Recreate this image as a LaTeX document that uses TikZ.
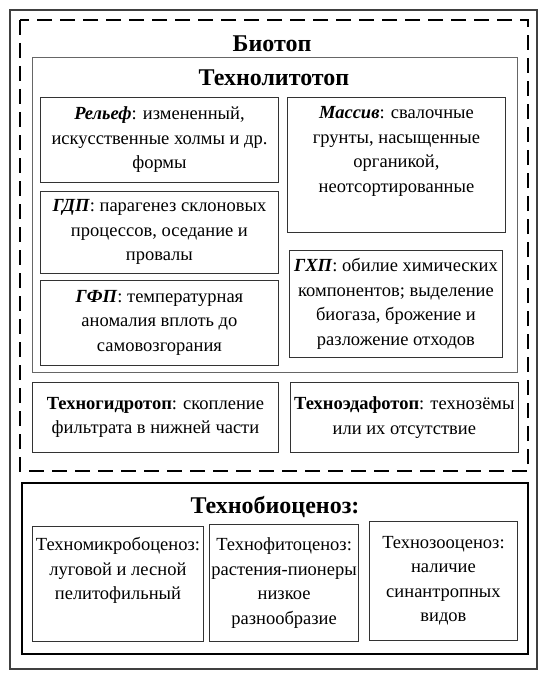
\documentclass[tikz,border=0pt]{standalone}
\usepackage{fontspec}
\setmainfont{Liberation Serif}
\usetikzlibrary{positioning}

\begin{document}
\begin{tikzpicture}[
    x=1pt, y=-1pt,
    node distance=8pt,
    infobox/.style={rectangle, draw=black!80, line width=0.9pt, align=center, inner sep=2pt, font=\fontsize{18.5}{24.5}\selectfont},
    headline/.style={font=\fontsize{24}{28}\selectfont\bfseries},
    outerframe/.style={draw=black!75, line width=1.4pt},
    biotopframe/.style={draw, line width=2pt, dash pattern=on 15pt off 8pt},
    groupframe/.style={draw=black!60, line width=0.9pt},
    cenframe/.style={draw, line width=2.4pt}
]
\useasboundingbox (0,0) rectangle (544,682);

% frames
\draw[outerframe] (10,10) rectangle (537,669);
\draw[biotopframe] (20,20) rectangle (528,471);
\draw[groupframe] (32,57) rectangle (517,372);
\draw[cenframe] (22,483) rectangle (528,654);

\node[headline] (biotop) at (272,44) {Биотоп};
\node[headline] (litho) at (274,78) {Технолитотоп};
\node[headline] (biocen) at (275,507) {Технобиоценоз:};

% technolithotop
\node[infobox, anchor=north west, minimum width=238pt, minimum height=85pt] (relief) at (40,97) {\textbf{\textit{Рельеф}}: измененный,\\искусственные холмы и др.\\формы};
\node[infobox, below=8pt of relief, minimum width=238pt, minimum height=82pt] (gdp) {\textbf{\textit{ГДП}}: парагенез склоновых\\процессов, оседание и\\провалы};
\node[infobox, below=6pt of gdp, minimum width=238pt, minimum height=85pt] (gfp) {\textbf{\textit{ГФП}}: температурная\\аномалия вплоть до\\самовозгорания};
\node[infobox, anchor=north west, minimum width=218pt, minimum height=135pt, text depth=31pt] (massiv) at (287,97) {\textbf{\textit{Массив}}: свалочные\\грунты, насыщенные\\органикой,\\неотсортированные};
\node[infobox, anchor=north west, minimum width=213pt, minimum height=107pt] (ghp) at (289,250) {\textbf{\textit{ГХП}}: обилие химических\\компонентов; выделение\\биогаза, брожение и\\разложение отходов};

% hydro / edaphotop
\node[infobox, anchor=north west, minimum width=246pt, minimum height=70pt] (hydro) at (32,382) {\textbf{Техногидротоп}: скопление\\фильтрата в нижней части};
\node[infobox, right=11pt of hydro, minimum width=228pt, minimum height=70pt] (edaf) {\textbf{Техноэдафотоп}: технозёмы\\или их отсутствие};

% technobiocenosis
\node[infobox, anchor=north west, minimum width=171pt, minimum height=115pt, text depth=31pt] (micro) at (32,526) {Техномикробоценоз:\\луговой и лесной\\пелитофильный};
\node[infobox, anchor=north west, minimum width=149pt, minimum height=117pt] (phyto) at (209,524) {Технофитоценоз:\\растения-пионеры\\низкое\\разнообразие};
\node[infobox, anchor=north west, minimum width=148pt, minimum height=119pt] (zoo) at (369,521) {Технозооценоз:\\наличие\\синантропных\\видов};
\end{tikzpicture}
\end{document}
